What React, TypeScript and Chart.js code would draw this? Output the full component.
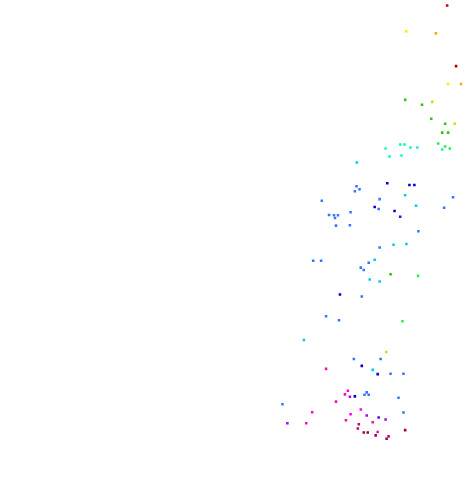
import React, { useEffect, useRef } from "react";
import { Chart, registerables } from "chart.js";

Chart.register(...registerables);

type P = { x: number; y: number };

const redPts: P[] = [{ x: 448, y: 3 }];
const darkRedPts: P[] = [{ x: 457, y: 64 }];
const yellowPts: P[] = [{ x: 406.7, y: 29 }, { x: 449, y: 82 }];
const orangePts: P[] = [{ x: 436.7, y: 31 }, { x: 462, y: 82 }];
const yellowGreenPts: P[] = [{ x: 433, y: 100 }, { x: 455.7, y: 122 }, { x: 386.7, y: 352 }];
const greenPts: P[] = [
  { x: 405.7, y: 98 }, { x: 422.7, y: 103 }, { x: 432, y: 117 }, { x: 446, y: 122 },
  { x: 443, y: 131 }, { x: 449, y: 131 }, { x: 391, y: 273.7 },
];
const springPts: P[] = [
  { x: 439, y: 142 }, { x: 446, y: 145 }, { x: 450.7, y: 147 }, { x: 418.7, y: 275.3 }, { x: 403, y: 321 },
];
const aquaPts: P[] = [
  { x: 443, y: 148 }, { x: 400.7, y: 143 }, { x: 405, y: 143 }, { x: 411, y: 146 }, { x: 390, y: 155 },
];
const cyanPts: P[] = [{ x: 386, y: 147 }, { x: 418, y: 146 }, { x: 402, y: 154 }];
const skyPts: P[] = [
  { x: 357, y: 161 }, { x: 405.7, y: 194 }, { x: 416.7, y: 204.7 }, { x: 394, y: 244 },
  { x: 407, y: 243.3 }, { x: 375, y: 259 }, { x: 370, y: 279 }, { x: 303.7, y: 340 },
  { x: 373, y: 370 }, { x: 380, y: 281 },
];
const bluePts: P[] = [
  { x: 356.7, y: 185 }, { x: 359.7, y: 188 }, { x: 355, y: 190 }, { x: 380, y: 198 }, { x: 454, y: 196 },
  { x: 321.7, y: 199.7 }, { x: 379, y: 208 }, { x: 445, y: 206.7 }, { x: 350.7, y: 211.3 }, { x: 329, y: 214 },
  { x: 334, y: 214.3 }, { x: 338, y: 214.3 }, { x: 335, y: 217 }, { x: 336, y: 224.7 }, { x: 350, y: 224.3 },
  { x: 419, y: 230.3 }, { x: 380, y: 246.7 }, { x: 313, y: 260 }, { x: 321, y: 260 }, { x: 369, y: 262 },
  { x: 361, y: 267 }, { x: 364, y: 269.3 }, { x: 362, y: 296 }, { x: 326, y: 316 }, { x: 339, y: 320 },
  { x: 354, y: 359 }, { x: 381, y: 359 }, { x: 391, y: 374 }, { x: 404, y: 374 }, { x: 367, y: 392.7 },
  { x: 364.7, y: 395 }, { x: 369, y: 395 }, { x: 399, y: 398 }, { x: 282, y: 404.7 }, { x: 404, y: 413 },
];
const darkBluePts: P[] = [
  { x: 387.7, y: 182 }, { x: 410, y: 183.7 }, { x: 415, y: 183.7 }, { x: 375, y: 206 }, { x: 395, y: 210 },
  { x: 340, y: 294 }, { x: 362, y: 366 }, { x: 378, y: 374.3 }, { x: 355, y: 396.7 },
];
const violetPts: P[] = [{ x: 400.7, y: 215.7 }, { x: 379, y: 418 }];
const purplePts: P[] = [{ x: 350, y: 397 }, { x: 367, y: 416 }, { x: 386, y: 420 }, { x: 287, y: 423.7 }];
const magentaPts: P[] = [{ x: 348, y: 391 }, { x: 361, y: 410 }, { x: 350.7, y: 414.7 }];
const pinkPts: P[] = [
  { x: 326, y: 369 }, { x: 345, y: 394.7 }, { x: 336, y: 402 }, { x: 312, y: 412.7 },
  { x: 346, y: 420.7 }, { x: 306, y: 423.7 }, { x: 373, y: 422.7 }, { x: 378, y: 432.7 },
];
const crimsonPts: P[] = [{ x: 359, y: 424.7 }, { x: 358, y: 429 }, { x: 389, y: 437 }];
const darkCrimsonPts: P[] = [
  { x: 364, y: 433 }, { x: 368, y: 433 }, { x: 376, y: 436 }, { x: 387, y: 439.3 }, { x: 405.7, y: 430.7 },
];

const groups: [P[], string][] = [
  [redPts, "#cc0000"],
  [darkRedPts, "#aa0000"],
  [yellowPts, "#ffee00"],
  [orangePts, "#ffaa00"],
  [yellowGreenPts, "#aaee00"],
  [greenPts, "#22cc00"],
  [springPts, "#22ee55"],
  [aquaPts, "#00ffaa"],
  [cyanPts, "#22eedd"],
  [skyPts, "#00ccee"],
  [bluePts, "#3377ff"],
  [darkBluePts, "#0000cc"],
  [violetPts, "#5500ee"],
  [purplePts, "#aa00ff"],
  [magentaPts, "#ff00ee"],
  [pinkPts, "#ee11aa"],
  [crimsonPts, "#cc0077"],
  [darkCrimsonPts, "#990055"],
];

export default function App() {
  const ref = useRef<HTMLCanvasElement | null>(null);
  useEffect(() => {
    if (!ref.current) return;
    const chart = new Chart(ref.current, {
      type: "scatter",
      data: {
        datasets: groups.map(([pts, c]) => ({
          data: pts,
          backgroundColor: c,
          borderColor: c,
          borderWidth: 0,
          pointStyle: "rect",
          pointRadius: 1.8,
          pointHoverRadius: 1.8,
        })),
      },
      options: {
        animation: false,
        responsive: false,
        maintainAspectRatio: false,
        layout: { padding: 0 },
        plugins: { legend: { display: false }, tooltip: { enabled: false } },
        scales: {
          x: { type: "linear", min: -0.8, max: 464.2, display: false },
          y: { type: "linear", min: -0.8, max: 487.2, reverse: true, display: false },
        },
      },
    });
    return () => chart.destroy();
  }, []);
  return (
    <div style={{ position: "fixed", left: 0, top: 0, width: 465, height: 488, background: "#fff" }}>
      <canvas ref={ref} width={465} height={488} style={{ width: 465, height: 488 }} />
    </div>
  );
}
